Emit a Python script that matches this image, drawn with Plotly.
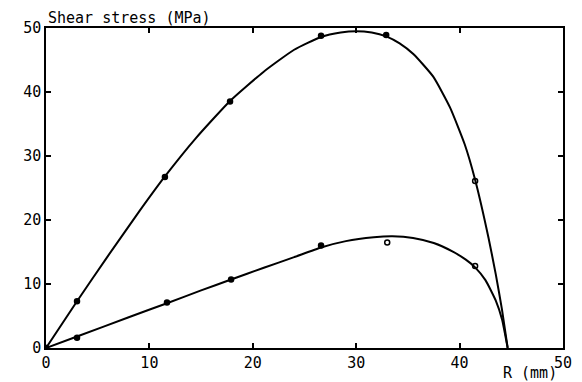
import plotly.graph_objects as go

# measured points
upper_r = [0, 3.0, 11.5, 17.8, 26.6, 32.9, 41.5]
upper_tau = [0, 7.3, 26.7, 38.5, 48.8, 48.9, 26.1]
upper_sym = ["circle", "circle", "circle", "circle", "circle", "circle", "circle-open"]

lower_r = [0, 3.0, 11.7, 17.9, 26.6, 33.0, 41.5]
lower_tau = [0, 1.6, 7.1, 10.7, 16.0, 16.5, 12.8]
lower_sym = ["circle", "circle", "circle", "circle", "circle", "circle-open", "circle-open"]

# fitted curves
upper_curve_r = [0, 3, 6, 9, 11.5, 14.5, 17.8, 21, 24, 26.6, 28.5, 30, 31.5, 32.9, 34.2,
                 35.55, 37.45, 39.07, 40.5, 41.5, 42.8, 43.5, 44.1, 44.65]
upper_curve_tau = [0, 7.3, 14.4, 21.3, 26.8, 32.8, 38.6, 43.1, 46.6, 48.6, 49.3, 49.5, 49.3, 48.7, 47.6,
                   45.9, 42.4, 37.6, 31.8, 26.3, 17.2, 11.5, 6.0, 0]

lower_curve_r = [0, 3, 8, 11.7, 15, 17.9, 21, 24, 26.6, 29, 31.7, 33.5, 35.5, 37.5, 39.3,
                 40.6, 41.5, 42.5, 43.5, 44.1, 44.65]
lower_curve_tau = [0, 1.8, 4.8, 7.0, 9.0, 10.7, 12.5, 14.2, 15.7, 16.7, 17.3, 17.45, 17.2, 16.4, 15.1,
                   13.8, 12.6, 10.6, 7.4, 4.5, 0]

fig = go.Figure()
for cr, ct in [(upper_curve_r, upper_curve_tau), (lower_curve_r, lower_curve_tau)]:
    fig.add_trace(go.Scatter(x=cr, y=ct, mode="lines",
                             line=dict(color="black", width=2, shape="spline", smoothing=0.5),
                             showlegend=False, hoverinfo="skip"))
fig.add_trace(go.Scatter(x=upper_r, y=upper_tau, mode="markers",
                         marker=dict(symbol=upper_sym, size=5, color="black",
                                     line=dict(color="black", width=1.5)),
                         showlegend=False))
fig.add_trace(go.Scatter(x=lower_r, y=lower_tau, mode="markers",
                         marker=dict(symbol=lower_sym, size=5, color="black",
                                     line=dict(color="black", width=1.5)),
                         showlegend=False))

font = dict(family="DejaVu Sans Mono", size=15, color="black")
axis_common = dict(showgrid=False, zeroline=False, showline=True, linecolor="black",
                   linewidth=1.5, mirror="ticks", ticks="inside", ticklen=5,
                   tickcolor="black", tickwidth=1.5, tickfont=font)
fig.update_xaxes(range=[0, 50], tickvals=[0, 10, 20, 30, 40, 50], **axis_common)
fig.update_yaxes(range=[0, 50], tickvals=[0, 10, 20, 30, 40, 50], **axis_common)

fig.update_layout(
    width=582, height=382,
    margin=dict(l=46, r=10, t=28, b=30),
    plot_bgcolor="white", paper_bgcolor="white",
    annotations=[
        dict(text="Shear stress (MPa)", xref="paper", yref="paper", x=0, y=1,
             xanchor="left", yanchor="bottom", showarrow=False, font=font, yshift=-1),
        dict(text="R (mm)", xref="paper", yref="paper", x=1, y=0,
             xanchor="right", yanchor="top", showarrow=False, font=font, yshift=-14,
             xshift=-4),
    ],
)
fig.write_html("out.html")
